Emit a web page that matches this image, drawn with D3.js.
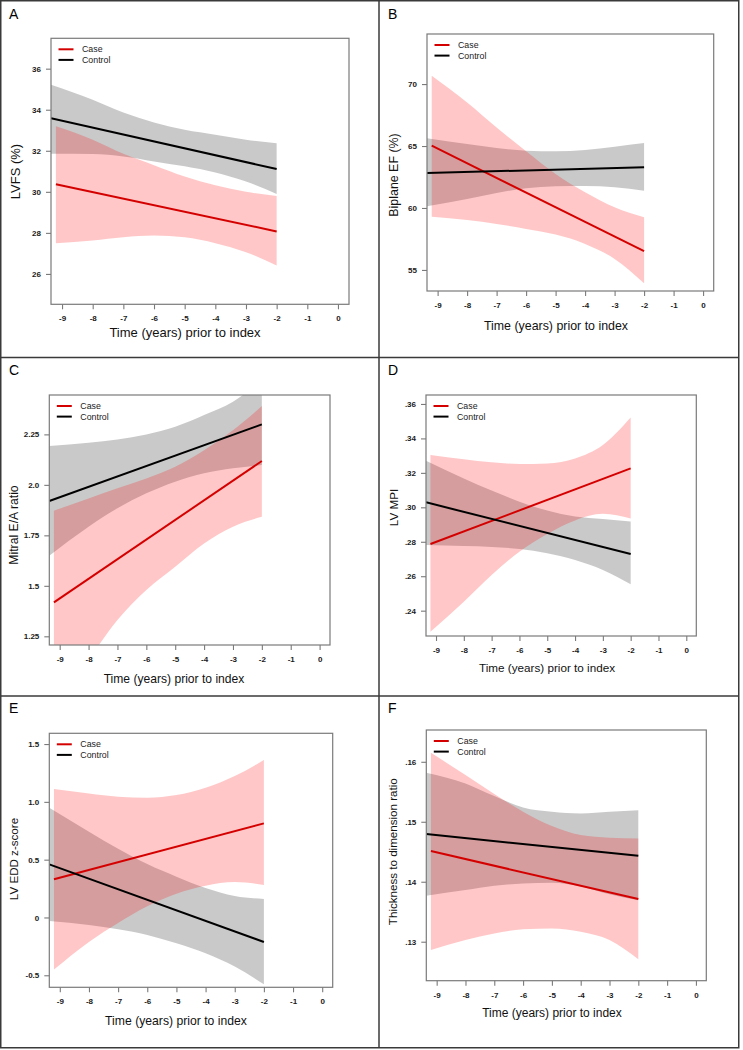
<!DOCTYPE html>
<html><head><meta charset="utf-8">
<script src="https://cdn.jsdelivr.net/npm/d3@7"></script>
<style>
body{margin:0;background:#fff}
svg{display:block}
text{font-family:"Liberation Sans",Arial,sans-serif}
</style>
</head><body>
<svg id="chart" width="743" height="1050"></svg>
<script>
// ---------------- DATA ----------------
const xTickValues = [-9,-8,-7,-6,-5,-4,-3,-2,-1,0];
const xDomain = [-9.36, 0.36];
const caseX = [-9.2,-8,-7,-6,-5,-4,-3,-2];
const controlX = [-9.36,-8,-7,-6,-5,-4,-3,-2];
const lineXCase = [-9.2,-2];
const lineXControl = [-9.36,-2];
const seriesNames = ["Case","Control"];
const panelLetters = ["A","B","C","D","E","F"];
const yTitles = ["LVFS (%)","Biplane EF (%)","Mitral E/A ratio","LV MPI","LV EDD z-score","Thickness to dimension ratio"];
const xTitle = "Time (years) prior to index";

// Panel A: LVFS
const yDomainA = [24.52, 37.48];
const yTicksA = [26,28,30,32,34,36];
const yTickLabelsA = ["26","28","30","32","34","36"];
const caseLineA = [30.37, 28.07];
const caseUpperA = [33.19, 32.54, 31.85, 31.30, 30.75, 30.32, 30.00, 29.80];
const caseLowerA = [27.50, 27.63, 27.79, 27.87, 27.79, 27.50, 27.06, 26.41];
const controlLineA = [33.59, 31.11];
const controlUpperA = [35.22, 34.49, 33.87, 33.38, 33.02, 32.78, 32.54, 32.37];
const controlLowerA = [31.85, 31.84, 31.72, 31.48, 31.24, 30.94, 30.50, 29.90];

// Panel B: Biplane EF
const yDomainB = [53.3, 74.04];
const yTicksB = [55,60,65,70];
const yTickLabelsB = ["55","60","65","70"];
const caseLineB = [65.03, 56.51];
const caseUpperB = [70.67, 68.52, 66.50, 64.57, 62.74, 61.26, 60.05, 59.25];
const caseLowerB = [59.30, 59.03, 58.71, 58.31, 57.85, 57.10, 55.89, 53.92];
const controlLineB = [62.82, 63.28];
const controlUpperB = [65.62, 65.16, 64.84, 64.62, 64.57, 64.68, 64.95, 65.24];
const controlLowerB = [60.13, 60.73, 61.21, 61.59, 61.75, 61.77, 61.67, 61.40];

// Panel C: Mitral E/A ratio
const yDomainC = [1.207, 2.445];
const yTicksC = [1.25,1.5,1.75,2.0,2.25];
const yTickLabelsC = ["1.25","1.5","1.75","2.0","2.25"];
const caseLineC = [1.418, 2.118];
const caseUpperC = [1.872, 1.933, 1.983, 2.032, 2.090, 2.172, 2.271, 2.390];
const caseLowerC = [0.970, 1.140, 1.331, 1.479, 1.595, 1.710, 1.793, 1.842];
const controlLineC = [1.920, 2.2995];
const controlUpperC = [2.192, 2.209, 2.225, 2.250, 2.288, 2.346, 2.412, 2.520];
const controlLowerC = [1.649, 1.793, 1.884, 1.958, 2.016, 2.057, 2.082, 2.098];

// Panel D: LV MPI
const yDomainD = [0.2253, 0.3652];
const yTicksD = [0.24,0.26,0.28,0.30,0.32,0.34,0.36];
const yTickLabelsD = [".24",".26",".28",".30",".32",".34",".36"];
const caseLineD = [0.2787, 0.3226];
const caseUpperD = [0.3304, 0.3279, 0.3261, 0.3252, 0.3255, 0.3284, 0.3362, 0.3521];
const caseLowerD = [0.2278, 0.2452, 0.2607, 0.2742, 0.2845, 0.2924, 0.2962, 0.2935];
const controlLineD = [0.3029, 0.2729];
const controlUpperD = [0.3271, 0.3168, 0.3097, 0.3033, 0.2981, 0.2946, 0.2932, 0.2917];
const controlLowerD = [0.2781, 0.2775, 0.2770, 0.2758, 0.2733, 0.2694, 0.2636, 0.2553];

// Panel E: LV EDD z-score
const yDomainE = [-0.604, 1.593];
const yTicksE = [-0.5,0,0.5,1.0,1.5];
const yTickLabelsE = ["-0.5","0","0.5","1.0","1.5"];
const caseLineE = [0.330, 0.814];
const caseUpperE = [1.111, 1.073, 1.045, 1.036, 1.059, 1.122, 1.223, 1.362];
const caseLowerE = [-0.451, -0.212, -0.048, 0.097, 0.206, 0.275, 0.307, 0.281];
const controlLineE = [0.4597, -0.2118];
const controlUpperE = [0.950, 0.742, 0.595, 0.462, 0.353, 0.255, 0.186, 0.160];
const controlLowerE = [-0.030, -0.065, -0.102, -0.151, -0.223, -0.310, -0.425, -0.578];

// Panel F: Thickness to dimension ratio
const yDomainF = [0.1235, 0.1653];
const yTicksF = [0.13,0.14,0.15,0.16];
const yTickLabelsF = [".13",".14",".15",".16"];
const caseLineF = [0.14511, 0.13711];
const caseUpperF = [0.16150, 0.15778, 0.15461, 0.15167, 0.14928, 0.14778, 0.14733, 0.14722];
const caseLowerF = [0.12861, 0.13028, 0.13139, 0.13206, 0.13222, 0.13167, 0.13028, 0.12706];
const controlLineF = [0.14794, 0.14433];
const controlUpperF = [0.15817, 0.15639, 0.15428, 0.15239, 0.15167, 0.15139, 0.15167, 0.15194];
const controlLowerF = [0.13767, 0.13861, 0.13933, 0.13972, 0.13983, 0.13920, 0.13790, 0.13690];

// ---------------- LAYOUT ----------------
const layouts = [
  {L:51,   T:38.3, R:349,   B:304.3, lx:9,   ly:18.5, xtx:185, xty:336.5, xts:13,   ytx:15,    yty:171.5, yts:13},
  {L:427,  T:34,   R:713.7, B:291,   lx:388, ly:18.5, xtx:556, xty:330,   xts:12.4, ytx:393.7, yty:175,   yts:12.4},
  {L:49.3, T:395,  R:330,   B:645,   lx:9,   ly:375,  xtx:174, xty:683,   xts:12.1, ytx:14,    yty:525,   yts:12.2},
  {L:426,  T:395,  R:696.3, B:636,   lx:388, ly:375,  xtx:547, xty:671.5, xts:11.7, ytx:393.7, yty:507.5, yts:11.7},
  {L:49.3, T:733.3,R:332.7, B:987.3, lx:9,   ly:713,  xtx:176, xty:1025,  xts:12.2, ytx:14,    yty:859,   yts:11.6},
  {L:426.3,T:730,  R:706.3, B:980.7, lx:388, ly:713,  xtx:552, xty:1016.5,xts:12,   ytx:392.7, yty:851.7, yts:11.6}
];

const panels = [
  {yDomain:yDomainA, yTicks:yTicksA, yLabels:yTickLabelsA, cl:caseLineA, cu:caseUpperA, cd:caseLowerA, kl:controlLineA, ku:controlUpperA, kd:controlLowerA},
  {yDomain:yDomainB, yTicks:yTicksB, yLabels:yTickLabelsB, cl:caseLineB, cu:caseUpperB, cd:caseLowerB, kl:controlLineB, ku:controlUpperB, kd:controlLowerB},
  {yDomain:yDomainC, yTicks:yTicksC, yLabels:yTickLabelsC, cl:caseLineC, cu:caseUpperC, cd:caseLowerC, kl:controlLineC, ku:controlUpperC, kd:controlLowerC},
  {yDomain:yDomainD, yTicks:yTicksD, yLabels:yTickLabelsD, cl:caseLineD, cu:caseUpperD, cd:caseLowerD, kl:controlLineD, ku:controlUpperD, kd:controlLowerD},
  {yDomain:yDomainE, yTicks:yTicksE, yLabels:yTickLabelsE, cl:caseLineE, cu:caseUpperE, cd:caseLowerE, kl:controlLineE, ku:controlUpperE, kd:controlLowerE},
  {yDomain:yDomainF, yTicks:yTicksF, yLabels:yTickLabelsF, cl:caseLineF, cu:caseUpperF, cd:caseLowerF, kl:controlLineF, ku:controlUpperF, kd:controlLowerF}
];

const RED = "#d40000";
const BAND_RED = "rgba(255,0,0,0.22)";
const BAND_GRAY = "rgba(0,0,0,0.21)";
const FRAME = "#7a7a7a";

const svg = d3.select("#chart");
svg.append("rect").attr("width",743).attr("height",1050).attr("fill","#fff");

panels.forEach((p, i) => {
  const lay = layouts[i];
  const x = d3.scaleLinear().domain(xDomain).range([lay.L, lay.R]);
  const y = d3.scaleLinear().domain(p.yDomain).range([lay.B, lay.T]);
  const g = svg.append("g");
  const clipId = "clip" + i;
  svg.append("clipPath").attr("id", clipId).append("rect")
    .attr("x", lay.L).attr("y", lay.T).attr("width", lay.R - lay.L).attr("height", lay.B - lay.T);
  const plot = g.append("g").attr("clip-path", `url(#${clipId})`);

  const area = d3.area().curve(d3.curveMonotoneX)
    .x(d => x(d[0])).y0(d => y(d[1])).y1(d => y(d[2]));
  const ctrlBand = controlX.map((xv, k) => [xv, p.kd[k], p.ku[k]]);
  const caseBand = caseX.map((xv, k) => [xv, p.cd[k], p.cu[k]]);
  plot.append("path").datum(ctrlBand).attr("d", area).attr("fill", BAND_GRAY);
  plot.append("path").datum(caseBand).attr("d", area).attr("fill", BAND_RED);

  const line = d3.line().x(d => x(d[0])).y(d => y(d[1]));
  plot.append("path").datum(lineXCase.map((xv,k)=>[xv,p.cl[k]])).attr("d", line)
    .attr("fill","none").attr("stroke",RED).attr("stroke-width",2);
  plot.append("path").datum(lineXControl.map((xv,k)=>[xv,p.kl[k]])).attr("d", line)
    .attr("fill","none").attr("stroke","#000").attr("stroke-width",2);

  // frame
  g.append("rect").attr("x", lay.L).attr("y", lay.T)
    .attr("width", lay.R - lay.L).attr("height", lay.B - lay.T)
    .attr("fill","none").attr("stroke",FRAME).attr("stroke-width",1.2);

  // axes
  const xa = g.append("g").attr("transform", `translate(0,${lay.B})`)
    .call(d3.axisBottom(x).tickValues(xTickValues).tickSize(5).tickPadding(6.5).tickFormat(d3.format("d")));
  const ya = g.append("g").attr("transform", `translate(${lay.L},0)`)
    .call(d3.axisLeft(y).tickValues(p.yTicks).tickSize(5).tickPadding(5).tickFormat((d,k)=>p.yLabels[k]));
  [xa, ya].forEach(a => {
    a.select(".domain").remove();
    a.selectAll("line").attr("stroke", FRAME).attr("stroke-width",1.1);
    a.selectAll("text").attr("font-size", 8).attr("font-weight","bold")
      .attr("font-family","'Liberation Sans',Arial,sans-serif").attr("fill","#1a1a1a");
  });
  xa.selectAll("text").text(d => d === 0 ? "0" : String(d));

  // legend
  const lgX = lay.L + 7.5, lgY = lay.T + 11;
  seriesNames.forEach((name, k) => {
    const yy = lgY + k * 10.6;
    g.append("line").attr("x1", lgX).attr("x2", lgX + 15).attr("y1", yy).attr("y2", yy)
      .attr("stroke", k === 0 ? RED : "#000").attr("stroke-width", 2);
    g.append("text").attr("x", lgX + 23.5).attr("y", yy + 3.1).attr("font-size", 8.8)
      .attr("fill", "#222").text(name);
  });

  // titles
  g.append("text").attr("x", lay.xtx).attr("y", lay.xty).attr("text-anchor","middle")
    .attr("font-size", lay.xts).attr("fill","#111").text(xTitle);
  g.append("text").attr("text-anchor","middle")
    .attr("transform", `translate(${lay.ytx + 0.36*lay.yts},${lay.yty}) rotate(-90)`)
    .attr("font-size", lay.yts).attr("fill","#111").text(yTitles[i]);
  g.append("text").attr("x", lay.lx).attr("y", lay.ly).attr("font-size", 14)
    .attr("fill","#000").text(panelLetters[i]);
});

// outer frame and dividers
const fr = svg.append("g").attr("stroke","#3a3a3a").attr("stroke-width",1.5).attr("fill","none");
fr.append("rect").attr("x",0.75).attr("y",0.75).attr("width",738).attr("height",1047);
fr.append("line").attr("x1",379).attr("x2",379).attr("y1",0).attr("y2",1048);
fr.append("line").attr("x1",0).attr("x2",739).attr("y1",357.5).attr("y2",357.5);
fr.append("line").attr("x1",0).attr("x2",739).attr("y1",696).attr("y2",696);
</script>
</body></html>
